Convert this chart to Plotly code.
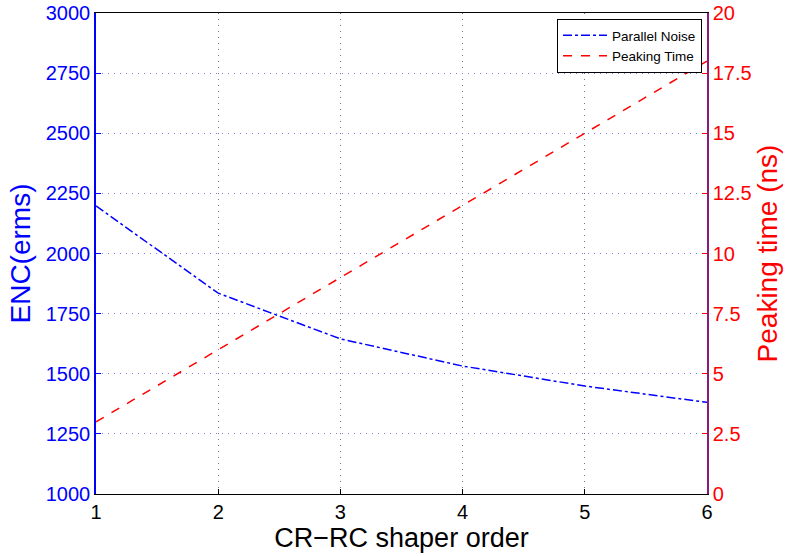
import plotly.graph_objects as go

shaper_order = [1, 2, 3, 4, 5, 6]
parallel_noise = [2198, 1835, 1645, 1532, 1449, 1381]
peaking_time = [3, 6, 9, 12, 15, 18]

left_ticks = [1000, 1250, 1500, 1750, 2000, 2250, 2500, 2750, 3000]
right_ticks = [0, 2.5, 5, 7.5, 10, 12.5, 15, 17.5, 20]
right_labels = ["0", "2.5", "5", "7.5", "10", "12.5", "15", "17.5", "20"]

FONT = "Liberation Sans, Arial, Helvetica, sans-serif"

fig = go.Figure()
fig.add_trace(go.Scatter(
    x=shaper_order, y=parallel_noise, mode="lines", name="Parallel Noise",
    line=dict(color="#0000FF", width=1.5, dash="dashdot"), yaxis="y"))
fig.add_trace(go.Scatter(
    x=shaper_order, y=peaking_time, mode="lines", name="Peaking Time",
    line=dict(color="#FF0000", width=1.5, dash="dash"), yaxis="y2"))

fig.update_layout(
    width=785, height=556,
    margin=dict(l=96, r=78, t=13, b=62, autoexpand=False),
    paper_bgcolor="white", plot_bgcolor="white",
    font=dict(family=FONT),
    showlegend=True,
    legend=dict(x=0.9918, y=0.9875, xanchor="right", yanchor="top",
                bgcolor="white", bordercolor="black", borderwidth=1,
                font=dict(size=13.5, color="black"), tracegroupgap=0,
                itemwidth=44),
    xaxis=dict(range=[1, 6], tickvals=shaper_order, ticktext=[str(v) for v in shaper_order],
               ticks="inside", ticklen=5, tickcolor="black", automargin=False,
               ticklabeloverflow="allow",
               showline=True, linecolor="black", linewidth=1, mirror=True,
               showgrid=True, gridcolor="#777777", griddash="1px,5px", gridwidth=1,
               zeroline=False,
               tickfont=dict(size=20, color="black"),
               title=dict(text="CR\u2212RC shaper order", font=dict(size=27, color="black"), standoff=0)),
    yaxis=dict(range=[1000, 3000], tickvals=left_ticks, automargin=False,
               ticklabeloverflow="allow",
               ticks="inside", ticklen=5, tickcolor="#0000FF",
               showline=True, linecolor="#0000FF", linewidth=1.5,
               showgrid=True, gridcolor="#8080FF", griddash="1px,5px", gridwidth=1,
               zeroline=False,
               tickfont=dict(size=20, color="#0000FF"),
               title=dict(text="ENC(erms)", font=dict(size=28, color="#0000FF"), standoff=7)),
    yaxis2=dict(range=[0, 20], tickvals=right_ticks, ticktext=right_labels,
                overlaying="y", side="right", automargin=False,
                ticklabeloverflow="allow",
                ticks="inside", ticklen=5, tickcolor="#FF0000",
                showline=True, linecolor="#8B1A7A", linewidth=1.5,
                showgrid=False, zeroline=False,
                tickfont=dict(size=20, color="#FF0000"),
                title=dict(text="Peaking time (ns)", font=dict(size=28, color="#FF0000"), standoff=4)),
)

fig.write_html("out.html", config={"displayModeBar": False},
               post_script="document.body.style.margin='0px';")
